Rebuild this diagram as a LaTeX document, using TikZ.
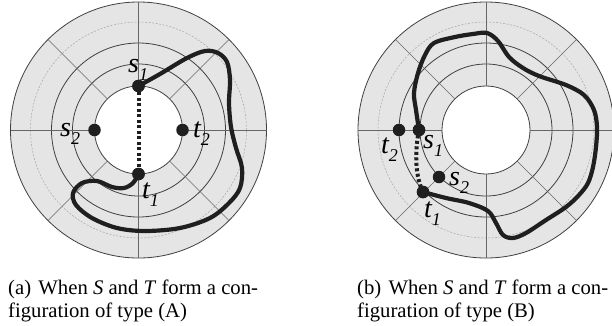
\documentclass[tikz,border=0pt]{standalone}
\usepackage{fontspec}
\setmainfont{Liberation Serif}
\newcommand{\plab}[2]{{\fontsize{28}{28}\selectfont\itshape #1\raisebox{-8pt}{\fontsize{18}{18}\selectfont #2}}}
\begin{document}
\begin{tikzpicture}[x=1pt,y=-1pt,
  ring/.style={draw=black!75, line width=0.8pt},
  spoke/.style={draw=black!60, line width=0.6pt},
  faint/.style={draw=black!35, dash pattern=on 2pt off 1.5pt, line width=0.5pt},
  disc/.style={fill=black!10},
  route/.style={draw=black!88, line width=4.2pt, line cap=round, line join=round},
  link/.style={draw=black!88, line width=4pt, dash pattern=on 3pt off 2.5pt},
  dot/.style={circle, fill=black!88, inner sep=0pt, minimum size=12.5pt},
  lab/.style={inner sep=0pt, anchor=base west},
  captext/.style={inner sep=0pt, anchor=base west, font=\fontsize{20.7}{23}\selectfont}]
\clip (0,0) rectangle (612,325);
\fill[white] (0,0) rectangle (612,325);
% annuli
\foreach \cx in {138.5,486} {
  \begin{scope}[shift={(\cx,130)}]
    \fill[disc] (0,0) circle[radius=128pt];
    \fill[white] (0,0) circle[radius=44pt];
    \foreach \r in {66,87} \draw[ring] (0,0) circle[radius=\r pt];
    \draw[faint] (0,0) circle[radius=108pt];
    \draw[ring] (0,0) circle[radius=44pt];
    \draw[ring] (0,0) circle[radius=128pt];
    \foreach \a in {0,45,...,315} \draw[spoke] (\a:44pt) -- (\a:128pt);
  \end{scope}
}
% ---------- (a)
\node[dot] (as1) at (138.5,86) {};
\node[dot] (at1) at (138.5,174) {};
\node[dot] (as2) at (94.5,130) {};
\node[dot] (at2) at (182.5,130) {};
\draw[route] plot[smooth, tension=0.55] coordinates {(as1.center) (160,74) (187,58) (205,51) (218,53) (227,62) (230,80) (229,103) (231,127) (236,148) (242,168) (240,188) (229,203) (210,218) (180,228) (145,231) (117,228) (92,218) (76,205) (73,193) (82,183) (97,181) (112,187) (124,188) (133,183) (at1.center)};
\draw[link] (as1.south) -- (at1.north);
\node[dot] at (as1) {};
\node[dot] at (at1) {};
\node[lab] (las1) at (128,72) {\plab{s}{1}};
\node[lab] (las2) at (60,136) {\plab{s}{2}};
\node[lab] (lat2) at (193,137) {\plab{t}{2}};
\node[lab] (lat1) at (142,198) {\plab{t}{1}};
% ---------- (b)
\node[dot] (bs1) at (419,130) {};
\node[dot] (bt2) at (399,130) {};
\node[dot] (bs2) at (439,177) {};
\node[dot] (bt1) at (423,192) {};
\draw[route] plot[smooth, tension=0.55] coordinates {(bs1.center) (416,110) (414,93) (418,73) (425,55) (434,43) (455,37) (473,34) (487,33) (498,41) (509,57) (523,68) (539,76) (566,85) (584,95) (594,110) (597,127) (596,147) (593,167) (588,183) (579,195) (566,207) (546,220) (526,233) (513,238) (503,235) (496,223) (488,211) (469,203) (446,198) (bt1.center)};
\draw[link] (bs1.center) .. controls (414,155) and (416,178) .. (bt1.center);
\node[dot] at (bs1) {};
\node[dot] at (bt1) {};
\node[lab] (lbs1) at (423,148) {\plab{s}{1}};
\node[lab] (lbt2) at (381,153) {\plab{t}{2}};
\node[lab] (lbs2) at (449,185) {\plab{s}{2}};
\node[lab] (lbt1) at (424,217) {\plab{t}{1}};
% captions
\node[captext] (capa1) at (8,294) {(a)\hspace{0.35em}When \textit{S} and \textit{T} form a con-};
\node[captext] (capa2) at (8,317) {figuration of type (A)};
\node[captext] (capb1) at (357,294) {(b)\hspace{0.35em}When \textit{S} and \textit{T} form a con-};
\node[captext] (capb2) at (357,317) {figuration of type (B)};
\end{tikzpicture}
\end{document}
